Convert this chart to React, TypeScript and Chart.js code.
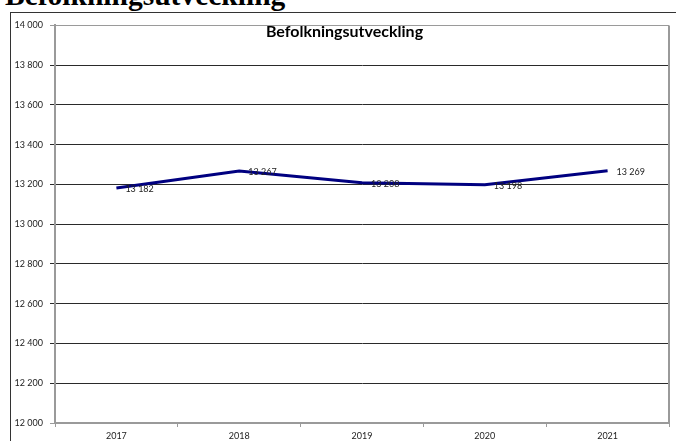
import React, { useEffect, useRef } from "react";
import { Chart, registerables } from "chart.js";

Chart.register(...registerables);

const years = ["2017", "2018", "2019", "2020", "2021"];
const population = [13182, 13267, 13208, 13198, 13269];
const yMin = 12000;
const yMax = 14000;
const yStep = 200;
const chartTitle = "Befolkningsutveckling";
const pageHeading = "Befolkningsutveckling";

const fmt = (v: number) => String(v).replace(/\B(?=(\d{3})+(?!\d))/g, " ");

const SMALL_FONT = "Lato";

export default function App() {
  const ref = useRef<HTMLCanvasElement | null>(null);

  useEffect(() => {
    const canvas = ref.current;
    if (!canvas) return;

    const overlay = {
      id: "overlay",
      afterDatasetsDraw(chart: any) {
        const { ctx, chartArea } = chart;
        ctx.save();
        // plot border (right side)
        ctx.strokeStyle = "#9a9a9a";
        ctx.lineWidth = 2;
        ctx.beginPath();
        ctx.moveTo(chartArea.right, chartArea.top);
        ctx.lineTo(chartArea.right, chartArea.bottom);
        ctx.stroke();
        // data labels
        const meta = chart.getDatasetMeta(0);
        ctx.fillStyle = "#222";
        ctx.font = `9px ${SMALL_FONT}`;
        ctx.textAlign = "left";
        ctx.textBaseline = "middle";
        meta.data.forEach((pt: any, i: number) => {
          ctx.fillText(fmt(population[i]), pt.x + 9, pt.y + 1);
        });
        // title inside plot
        ctx.fillStyle = "#000";
        ctx.font = `bold 16px ${SMALL_FONT}`;
        ctx.textAlign = "center";
        ctx.fillText(chartTitle, chart.width / 2 + 1, 19);
        ctx.restore();
      },
    };

    const chart = new Chart(canvas, {
      type: "line",
      data: {
        labels: years,
        datasets: [
          {
            data: population,
            borderColor: "#000080",
            borderWidth: 3,
            pointRadius: 0,
            tension: 0,
            fill: false,
          },
        ],
      },
      options: {
        responsive: false,
        animation: false,
        devicePixelRatio: 1,
        layout: { padding: { top: 11, right: 7, left: 0, bottom: 0 } },
        plugins: {
          legend: { display: false },
          title: { display: false },
          tooltip: { enabled: false },
        },
        scales: {
          x: {
            offset: true,
            afterFit: (s: any) => {
              s.height = 18;
            },
            grid: {
              offset: true,
              drawOnChartArea: false,
              drawTicks: true,
              tickLength: 4,
              color: "#9a9a9a",
              lineWidth: 1,
            },
            border: { color: "#9a9a9a", width: 2 },
            ticks: {
              color: "#222",
              font: { family: SMALL_FONT, size: 9 },
              padding: 4,
              maxRotation: 0,
            },
          },
          y: {
            min: yMin,
            max: yMax,
            afterFit: (s: any) => {
              s.width = 44;
            },
            grid: {
              color: (c: any) =>
                c.tick && (c.tick.value === yMin || c.tick.value === yMax)
                  ? "#9a9a9a"
                  : "#2a2a2a",
              lineWidth: 1,
              tickLength: 5,
            },
            border: { color: "#9a9a9a", width: 2 },
            ticks: {
              stepSize: yStep,
              color: "#222",
              font: { family: SMALL_FONT, size: 9 },
              padding: 7,
              callback: (v: any) => fmt(Number(v)),
            },
          },
        },
      },
      plugins: [overlay],
    });

    return () => chart.destroy();
  }, []);

  return (
    <div
      style={{
        position: "fixed",
        left: 0,
        top: 0,
        width: 676,
        height: 441,
        overflow: "hidden",
        background: "#fff",
      }}
    >
      <div
        style={{
          position: "absolute",
          left: 5,
          top: -20,
          fontFamily: "'Liberation Serif', serif",
          fontWeight: "bold",
          fontSize: "29.5px",
          lineHeight: "30px",
          whiteSpace: "nowrap",
          color: "#000",
        }}
      >
        {pageHeading}
      </div>
      <div
        style={{
          position: "absolute",
          left: 10,
          top: 12,
          width: 700,
          height: 500,
          borderLeft: "1px solid #333",
          borderTop: "1px solid #333",
        }}
      />
      <canvas
        ref={ref}
        width={665}
        height={428}
        style={{ position: "absolute", left: 11, top: 13, width: 665, height: 428 }}
      />
    </div>
  );
}
